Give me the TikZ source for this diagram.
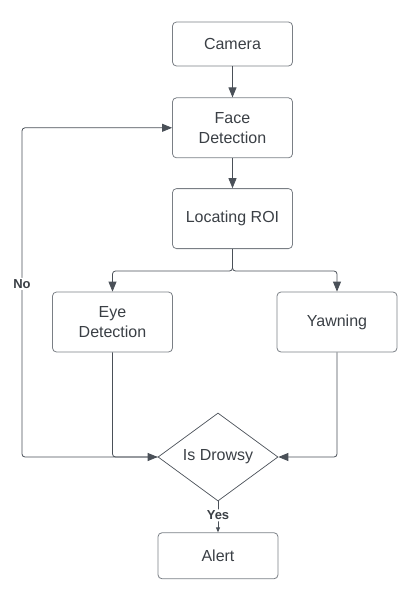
\documentclass[tikz,border=0pt]{standalone}
\usepackage{fontspec}
\setmainfont{Liberation Sans}
\usetikzlibrary{positioning, arrows.meta, shapes.geometric}
\definecolor{boxgray}{HTML}{7A7F85}
\definecolor{linegray}{HTML}{4A5058}
\definecolor{textgray}{HTML}{3A3F45}
\tikzset{
  stage/.style  = {rectangle, rounded corners=4pt, draw=boxgray, line width=0.8pt,
                   text=textgray, align=center, minimum width=120pt, minimum height=60pt,
                   font=\fontsize{16}{20}\selectfont, inner sep=2pt},
  decide/.style = {diamond, draw=linegray, line width=0.7pt, text=textgray,
                   minimum width=120pt, minimum height=88pt, inner sep=0pt,
                   font=\fontsize{16}{20}\selectfont},
  lab/.style    = {font=\fontsize{13}{15}\selectfont\bfseries, text=textgray,
                   fill=white, inner sep=1.5pt},
  flow/.style   = {line width=0.8pt, draw=linegray, rounded corners=3pt,
                   -{Triangle[length=10pt,width=8pt]}},
}

\begin{document}
\begin{tikzpicture}[x=1pt, y=-1pt]
\useasboundingbox (0,0) rectangle (412,590);

% Main column
\node (cam)  [stage, minimum height=44pt] at (232.5,44) {Camera};
\node (face) [stage, below=31pt of cam]  {Face\\Detection};
\node (roi)  [stage, below=30pt of face] {Locating ROI};

% Two branches
\node (eye)  [stage] at (112.5,322) {Eye\\Detection};
\node (yawn) [stage] at (337,322)   {Yawning};

% Decision and result
\node (drowsy) [decide] at (218,457) {Is Drowsy};
\node (alert)  [stage, minimum height=46pt, below=31pt of drowsy] {Alert};
\coordinate (back) at (22,457);

% Flows
\draw [flow] (cam) -- (face);
\draw [flow] (face) -- (roi);
\draw [flow] (roi.south) -- ++(0,22) -| (eye.north);
\draw [flow] (roi.south) -- ++(0,22) -| (yawn.north);
\draw [flow] (eye.south) |- (drowsy.west);
\draw [flow] (yawn.south) |- (drowsy.east);
\draw [flow] (drowsy.west) -- (back) |- node[lab, pos=0.263] {No} (face.west);
\draw [flow, -{Triangle[length=5pt,width=4pt]}] (drowsy.south) -- node[lab, pos=0.45] {Yes} (alert.north);

\end{tikzpicture}
\end{document}
